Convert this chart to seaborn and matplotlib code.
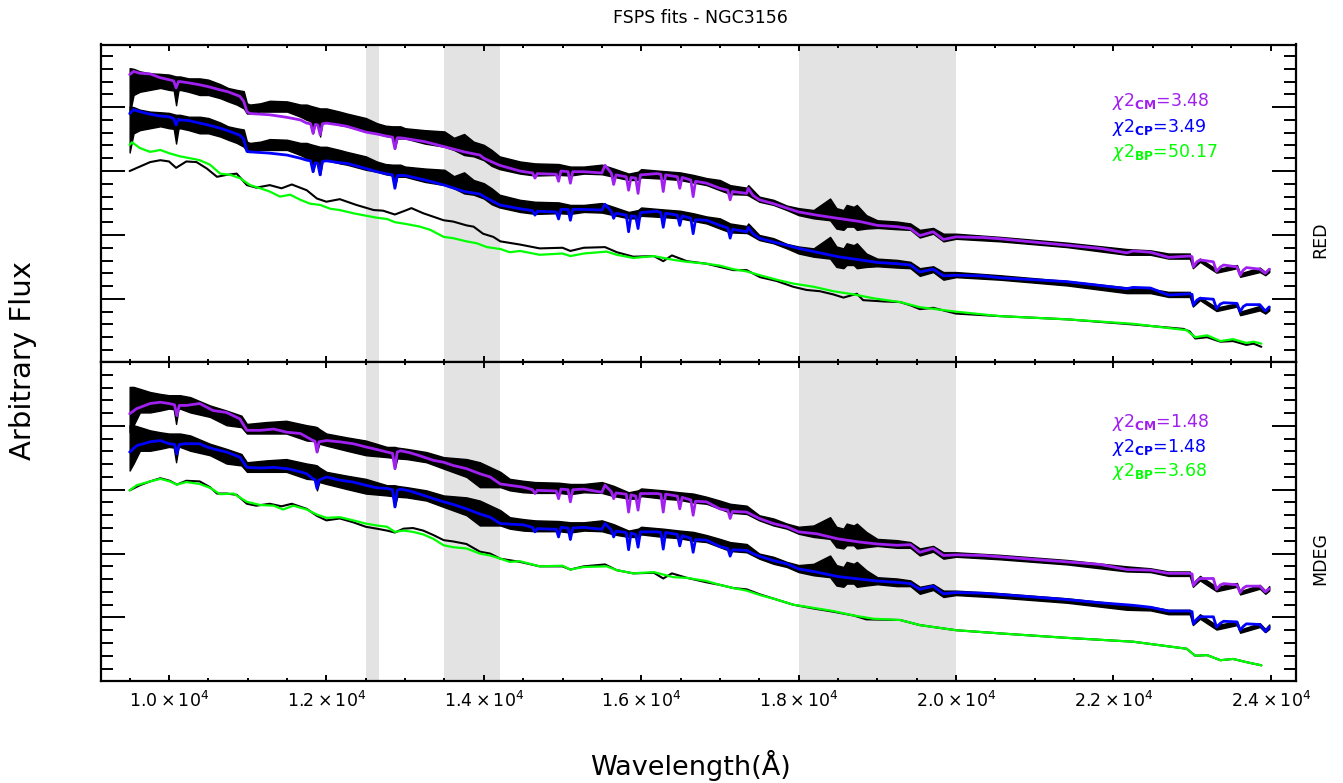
import numpy as np
import matplotlib
matplotlib.use("Agg")
import matplotlib.pyplot as plt
import seaborn as sns
from matplotlib.ticker import MultipleLocator, FuncFormatter

# ---------------- data (wavelength in Angstrom, arbitrary flux) ----------------
OFFSET = 0.6  # vertical shift between the two observed copies

RED_OBS = [(9500,4.61,3.89),(9550,4.60,4.19),(9630,4.56,4.24),(9760,4.53,4.27),(9890,4.52,4.30),(10000,4.51,4.27),(10060,4.49,4.26),(10090,4.48,4.03),(10120,4.48,4.26),(10140,4.48,4.27),(10250,4.45,4.24),(10390,4.45,4.19),(10500,4.43,4.19),(10650,4.36,4.14),(10750,4.30,4.09),(10860,4.27,4.04),(10950,4.25,3.98),(10990,4.06,3.90),(11030,4.04,3.90),(11160,4.06,3.93),(11280,4.10,3.93),(11500,4.09,3.93),(11670,4.04,3.85),(11750,4.04,3.80),(11800,4.02,3.78),(11830,4.01,3.59),(11860,4.00,3.76),(11890,3.99,3.75),(11920,3.98,3.54),(11950,3.98,3.76),(12000,3.98,3.77),(12170,3.93,3.72),(12260,3.90,3.70),(12500,3.83,3.62),(12640,3.75,3.59),(12750,3.71,3.55),(12840,3.70,3.53),(12870,3.70,3.35),(12900,3.70,3.51),(12940,3.70,3.51),(13000,3.67,3.51),(13250,3.64,3.43),(13500,3.62,3.38),(13620,3.52,3.33),(13750,3.58,3.25),(13870,3.46,3.23),(14000,3.41,3.17),(14100,3.33,3.08),(14200,3.23,3.03),(14460,3.15,2.96),(14650,3.12,2.93),(14950,3.11,2.94),(15100,3.07,2.93),(15270,3.07,2.96),(15500,3.10,2.95),(15650,3.04,2.91),(15840,2.96,2.86),(15960,2.99,2.86),(16000,3.03,2.90),(16280,3.00,2.88),(16490,2.98,2.86),(16660,2.94,2.82),(16830,2.89,2.78),(17000,2.86,2.70),(17130,2.78,2.64),(17340,2.74,2.63),(17360,2.78,2.62),(17500,2.60,2.52),(17680,2.55,2.47),(17850,2.46,2.39),(18000,2.42,2.31),(18190,2.39,2.26),(18400,2.57,2.23),(18480,2.42,2.10),(18570,2.39,2.08),(18610,2.47,2.13),(18700,2.44,2.13),(18740,2.47,2.08),(18860,2.31,2.10),(19000,2.23,2.11),(19250,2.21,2.09),(19420,2.18,2.08),(19540,2.08,1.96),(19710,2.11,2.02),(19840,2.02,1.90),(20000,2.02,1.94),(20560,1.97,1.90),(21410,1.88,1.81),(22170,1.78,1.69),(22470,1.76,1.69),(22700,1.71,1.63),(22970,1.71,1.63),(23010,1.53,1.48),(23100,1.63,1.58),(23310,1.465,1.41),(23570,1.53,1.48),(23610,1.40,1.345),(23860,1.49,1.42),(23930,1.42,1.37),(23980,1.48,1.42)]

RED_CM = [(9500,4.51),(9550,4.56),(9630,4.53),(9760,4.52),(9890,4.46),(10000,4.43),(10060,4.41),(10090,4.30),(10120,4.40),(10140,4.40),(10250,4.38),(10390,4.35),(10500,4.32),(10650,4.27),(10750,4.24),(10900,4.17),(10950,4.09),(10990,3.93),(11030,3.90),(11160,3.89),(11280,3.88),(11500,3.84),(11670,3.80),(11750,3.75),(11800,3.74),(11830,3.59),(11860,3.73),(11890,3.72),(11920,3.57),(11950,3.74),(12000,3.75),(12170,3.72),(12260,3.70),(12500,3.61),(12640,3.58),(12750,3.55),(12840,3.53),(12870,3.35),(12900,3.52),(12940,3.52),(13000,3.51),(13250,3.46),(13500,3.38),(13750,3.30),(13950,3.25),(14000,3.20),(14200,3.09),(14460,3.00),(14620,2.97),(14650,2.89),(14680,2.96),(14920,2.95),(14950,2.84),(14980,3.00),(15070,2.99),(15100,2.81),(15130,2.99),(15270,2.99),(15500,2.97),(15540,3.09),(15620,2.97),(15650,2.79),(15680,2.94),(15810,2.91),(15840,2.70),(15870,2.90),(15930,2.89),(15960,2.65),(15990,2.94),(16200,2.96),(16250,2.95),(16280,2.68),(16310,2.94),(16460,2.91),(16490,2.73),(16520,2.90),(16630,2.86),(16660,2.60),(16690,2.84),(16830,2.81),(17000,2.73),(17100,2.70),(17130,2.55),(17160,2.68),(17340,2.65),(17360,2.73),(17420,2.62),(17500,2.55),(17680,2.49),(17850,2.42),(18000,2.36),(18230,2.31),(18500,2.26),(18780,2.21),(19000,2.15),(19250,2.13),(19420,2.10),(19540,1.99),(19710,2.05),(19840,1.93),(20000,1.97),(20350,1.96),(20560,1.94),(20980,1.89),(21410,1.84),(21830,1.79),(22170,1.72),(22250,1.75),(22470,1.73),(22700,1.65),(22970,1.67),(23000,1.66),(23015,1.50),(23060,1.58),(23100,1.61),(23270,1.58),(23310,1.43),(23360,1.50),(23400,1.53),(23570,1.50),(23610,1.37),(23650,1.45),(23690,1.49),(23860,1.465),(23930,1.40),(23980,1.465)]

RED_CP = [(9500,3.90),(9550,3.96),(9630,3.93),(9760,3.89),(9890,3.86),(10000,3.85),(10060,3.82),(10090,3.72),(10120,3.81),(10140,3.80),(10250,3.79),(10390,3.75),(10500,3.72),(10650,3.67),(10750,3.63),(10900,3.56),(10950,3.50),(10990,3.31),(11030,3.30),(11160,3.29),(11280,3.28),(11500,3.25),(11670,3.20),(11750,3.17),(11800,3.16),(11830,2.99),(11860,3.13),(11890,3.12),(11920,2.94),(11950,3.15),(12000,3.16),(12170,3.13),(12260,3.12),(12500,3.04),(12640,2.99),(12750,2.96),(12840,2.94),(12870,2.73),(12900,2.93),(12940,2.93),(13000,2.93),(13250,2.86),(13500,2.78),(13750,2.68),(13950,2.64),(14000,2.60),(14200,2.47),(14460,2.41),(14620,2.38),(14650,2.31),(14680,2.37),(14920,2.36),(14950,2.25),(14980,2.40),(15070,2.40),(15100,2.23),(15130,2.40),(15270,2.40),(15500,2.39),(15540,2.48),(15620,2.37),(15650,2.26),(15680,2.34),(15810,2.31),(15840,2.05),(15870,2.30),(15930,2.29),(15960,2.10),(15990,2.35),(16200,2.37),(16250,2.35),(16280,2.12),(16310,2.34),(16460,2.31),(16490,2.15),(16520,2.30),(16630,2.26),(16660,2.02),(16690,2.24),(16830,2.23),(17000,2.15),(17100,2.11),(17130,1.95),(17160,2.09),(17340,2.05),(17360,2.12),(17420,2.02),(17500,1.95),(17680,1.89),(17850,1.84),(18000,1.79),(18230,1.73),(18500,1.66),(18780,1.61),(19000,1.57),(19250,1.55),(19420,1.53),(19540,1.42),(19710,1.465),(19840,1.36),(20000,1.37),(20350,1.36),(20560,1.33),(20980,1.30),(21410,1.27),(21830,1.21),(22170,1.16),(22250,1.18),(22470,1.17),(22700,1.06),(22970,1.08),(23000,1.07),(23015,0.90),(23060,0.98),(23100,1.01),(23270,0.995),(23310,0.85),(23360,0.92),(23400,0.94),(23570,0.93),(23610,0.80),(23650,0.88),(23690,0.91),(23860,0.91),(23930,0.81),(23980,0.875)]

RED_SMOOTH = [(9500,3.00),(9630,3.07),(9760,3.14),(9890,3.17),(10000,3.15),(10090,3.05),(10220,3.15),(10350,3.14),(10480,3.04),(10610,2.91),(10730,2.94),(10860,2.96),(10990,2.78),(11110,2.74),(11280,2.78),(11430,2.73),(11560,2.79),(11750,2.70),(11880,2.57),(12000,2.52),(12170,2.56),(12380,2.47),(12600,2.39),(12720,2.38),(12870,2.32),(13020,2.39),(13080,2.42),(13230,2.34),(13490,2.23),(13610,2.21),(13780,2.15),(13870,2.13),(13990,2.02),(14120,1.97),(14210,1.90),(14460,1.85),(14710,1.79),(15000,1.80),(15100,1.75),(15270,1.80),(15540,1.81),(15690,1.73),(15900,1.66),(16160,1.67),(16280,1.59),(16390,1.68),(16580,1.59),(16830,1.55),(17000,1.50),(17170,1.45),(17340,1.45),(17510,1.34),(17720,1.28),(17930,1.19),(18100,1.14),(18270,1.12),(18440,1.07),(18570,1.02),(18740,1.08),(18820,0.98),(19080,0.96),(19290,0.95),(19420,0.90),(19540,0.84),(19710,0.86),(20000,0.77),(20560,0.73),(21410,0.68),(22250,0.60),(22890,0.53),(22970,0.49),(23040,0.38),(23190,0.40),(23360,0.33),(23520,0.34),(23690,0.28),(23780,0.30),(23880,0.25)]

RED_BP = [(9500,3.41),(9530,3.45),(9630,3.36),(9760,3.30),(9890,3.33),(10000,3.28),(10140,3.23),(10270,3.20),(10390,3.17),(10520,3.10),(10650,2.96),(10780,2.94),(10900,2.89),(11030,2.78),(11160,2.73),(11280,2.68),(11410,2.60),(11540,2.63),(11670,2.55),(11790,2.49),(11920,2.47),(12050,2.41),(12170,2.39),(12340,2.34),(12510,2.30),(12640,2.27),(12770,2.25),(12870,2.20),(13020,2.17),(13190,2.13),(13320,2.08),(13490,1.97),(13610,1.95),(13780,1.90),(13910,1.87),(14040,1.81),(14210,1.78),(14330,1.73),(14460,1.75),(14710,1.69),(15000,1.71),(15100,1.67),(15270,1.71),(15560,1.74),(15690,1.69),(15900,1.64),(16160,1.67),(16410,1.61),(16580,1.58),(16830,1.55),(17000,1.52),(17170,1.465),(17340,1.43),(17510,1.37),(17720,1.30),(17930,1.24),(18190,1.19),(18440,1.12),(18700,1.07),(18950,1.01),(19290,0.95),(19540,0.87),(20000,0.80),(20560,0.73),(21410,0.68),(22250,0.61),(22930,0.51),(23040,0.40),(23190,0.43),(23360,0.34),(23520,0.37),(23690,0.31),(23780,0.33),(23880,0.30)]

MDEG_OBS = [(9500,4.61,3.90),(9550,4.61,4.01),(9630,4.58,4.21),(9760,4.53,4.21),(9890,4.50,4.24),(10000,4.48,4.27),(10060,4.48,4.26),(10090,4.48,4.03),(10120,4.48,4.26),(10140,4.48,4.27),(10270,4.45,4.21),(10520,4.32,4.14),(10730,4.24,4.01),(10920,4.16,3.98),(10990,4.03,3.88),(11240,4.06,3.88),(11490,4.08,3.88),(11750,4.01,3.77),(11850,3.99,3.76),(11880,3.98,3.59),(11910,3.95,3.72),(12000,3.88,3.69),(12260,3.82,3.61),(12500,3.77,3.54),(12770,3.67,3.51),(12840,3.67,3.50),(12870,3.67,3.33),(12900,3.66,3.49),(13020,3.64,3.48),(13270,3.59,3.43),(13490,3.51,3.33),(13780,3.48,3.20),(13950,3.43,3.04),(14210,3.28,3.04),(14330,3.17,2.99),(14500,3.14,2.96),(14650,3.12,2.95),(14950,3.11,2.95),(15100,3.09,2.93),(15270,3.09,2.96),(15500,3.12,2.95),(15650,3.06,2.90),(15840,2.96,2.86),(15960,2.99,2.86),(16000,3.02,2.90),(16280,2.99,2.86),(16490,2.96,2.84),(16660,2.94,2.80),(16830,2.89,2.78),(17000,2.83,2.70),(17130,2.78,2.64),(17340,2.75,2.62),(17500,2.60,2.52),(17680,2.55,2.44),(17850,2.47,2.39),(18000,2.42,2.31),(18190,2.44,2.26),(18400,2.57,2.23),(18480,2.42,2.10),(18570,2.39,2.08),(18610,2.47,2.13),(18700,2.44,2.13),(18740,2.47,2.08),(18860,2.34,2.10),(19000,2.23,2.12),(19250,2.21,2.09),(19420,2.18,2.09),(19540,2.08,1.97),(19710,2.12,2.03),(19840,2.02,1.92),(20000,2.02,1.95),(20560,1.98,1.91),(21410,1.90,1.83),(22170,1.80,1.72),(22470,1.77,1.71),(22700,1.72,1.65),(22970,1.72,1.65),(23010,1.54,1.48),(23100,1.65,1.58),(23310,1.48,1.41),(23570,1.54,1.48),(23610,1.41,1.36),(23860,1.51,1.45),(23930,1.42,1.37),(23980,1.49,1.42)]

MDEG_CM = [(9500,4.19),(9590,4.27),(9760,4.35),(9890,4.37),(10000,4.35),(10070,4.33),(10100,4.16),(10130,4.32),(10220,4.32),(10390,4.35),(10560,4.24),(10730,4.21),(10900,4.11),(10990,3.93),(11160,3.93),(11330,3.95),(11500,3.90),(11670,3.88),(11830,3.77),(11855,3.76),(11880,3.59),(11905,3.75),(12000,3.77),(12170,3.75),(12340,3.72),(12500,3.67),(12640,3.63),(12770,3.59),(12840,3.57),(12870,3.33),(12900,3.59),(12940,3.61),(13060,3.58),(13190,3.53),(13360,3.46),(13490,3.43),(13610,3.38),(13780,3.33),(13950,3.25),(14080,3.20),(14210,3.09),(14500,3.04),(14620,3.00),(14650,2.94),(14680,2.99),(14920,2.98),(14950,2.86),(14980,3.01),(15070,3.00),(15100,2.81),(15130,3.00),(15270,3.01),(15500,2.96),(15540,3.07),(15620,2.97),(15650,2.86),(15680,2.95),(15810,2.93),(15840,2.65),(15870,2.92),(15930,2.90),(15960,2.68),(15990,2.94),(16200,2.94),(16250,2.93),(16280,2.65),(16310,2.93),(16460,2.90),(16490,2.70),(16520,2.88),(16630,2.84),(16660,2.60),(16690,2.82),(16830,2.81),(17000,2.70),(17100,2.68),(17130,2.55),(17160,2.66),(17340,2.65),(17420,2.60),(17500,2.55),(17680,2.47),(17850,2.42),(18000,2.34),(18230,2.31),(18500,2.23),(18780,2.18),(19000,2.15),(19250,2.13),(19420,2.14),(19540,2.02),(19710,2.08),(19840,1.97),(20000,1.98),(20350,1.97),(20560,1.95),(20980,1.91),(21410,1.87),(21830,1.83),(22170,1.75),(22470,1.74),(22700,1.69),(22970,1.69),(23000,1.68),(23015,1.50),(23060,1.57),(23100,1.61),(23270,1.61),(23310,1.44),(23360,1.51),(23400,1.53),(23570,1.51),(23610,1.39),(23650,1.46),(23690,1.49),(23860,1.49),(23930,1.40),(23980,1.45)]

MDEG_CP = [(9500,3.59),(9590,3.69),(9760,3.75),(9890,3.77),(10000,3.72),(10070,3.71),(10100,3.56),(10130,3.71),(10220,3.72),(10390,3.72),(10480,3.67),(10560,3.64),(10730,3.59),(10900,3.51),(10990,3.35),(11160,3.34),(11330,3.35),(11500,3.33),(11670,3.28),(11750,3.25),(11830,3.17),(11855,3.16),(11880,3.02),(11905,3.15),(12000,3.20),(12170,3.15),(12340,3.12),(12500,3.07),(12640,3.03),(12770,3.02),(12840,3.00),(12870,2.73),(12900,2.99),(12940,3.01),(13060,2.98),(13190,2.93),(13360,2.86),(13490,2.81),(13610,2.77),(13780,2.70),(13950,2.62),(14080,2.57),(14210,2.47),(14500,2.45),(14620,2.41),(14650,2.34),(14680,2.39),(14920,2.38),(14950,2.26),(14980,2.41),(15070,2.40),(15100,2.22),(15130,2.40),(15270,2.41),(15500,2.38),(15540,2.47),(15620,2.37),(15650,2.26),(15680,2.35),(15810,2.33),(15840,2.06),(15870,2.32),(15930,2.30),(15960,2.10),(15990,2.34),(16200,2.34),(16250,2.33),(16280,2.07),(16310,2.33),(16460,2.30),(16490,2.12),(16520,2.28),(16630,2.24),(16660,2.02),(16690,2.22),(16830,2.21),(17000,2.11),(17100,2.08),(17130,1.96),(17160,2.06),(17340,2.05),(17420,2.00),(17500,1.96),(17680,1.89),(17850,1.84),(18000,1.76),(18230,1.71),(18500,1.64),(18780,1.60),(19000,1.57),(19250,1.55),(19420,1.53),(19540,1.44),(19710,1.49),(19840,1.37),(20000,1.39),(20350,1.38),(20560,1.36),(20980,1.32),(21410,1.28),(21830,1.23),(22250,1.19),(22470,1.16),(22700,1.10),(22970,1.10),(23000,1.09),(23015,0.90),(23060,0.97),(23100,1.01),(23270,1.01),(23310,0.85),(23360,0.91),(23400,0.94),(23570,0.93),(23610,0.80),(23650,0.86),(23690,0.90),(23860,0.89),(23930,0.78),(23980,0.85)]

MDEG_SMOOTH = [(9500,2.99),(9630,3.07),(9760,3.13),(9890,3.18),(10010,3.14),(10100,3.08),(10220,3.14),(10390,3.13),(10520,3.04),(10610,2.94),(10730,2.94),(10860,2.92),(10990,2.78),(11110,2.75),(11280,2.78),(11430,2.74),(11560,2.78),(11750,2.70),(11880,2.59),(12000,2.52),(12170,2.55),(12340,2.49),(12500,2.42),(12640,2.39),(12770,2.36),(12870,2.33),(12980,2.39),(13100,2.40),(13230,2.36),(13360,2.29),(13490,2.21),(13610,2.19),(13780,2.15),(13950,2.03),(14080,2.00),(14210,1.92),(14460,1.87),(14710,1.80),(15000,1.80),(15100,1.75),(15270,1.80),(15540,1.83),(15690,1.74),(15900,1.69),(16160,1.70),(16280,1.61),(16390,1.69),(16580,1.62),(16830,1.55),(17000,1.51),(17170,1.46),(17340,1.44),(17510,1.36),(17720,1.28),(17930,1.20),(18190,1.14),(18440,1.09),(18700,1.03),(18860,0.97),(19290,0.96),(19540,0.88),(20000,0.80),(20560,0.75),(21410,0.68),(22250,0.62),(22930,0.51),(23040,0.40),(23190,0.41),(23360,0.33),(23520,0.35),(23690,0.30),(23880,0.25)]

MDEG_BP = [(9500,2.99),(9590,3.07),(9760,3.13),(9890,3.17),(10010,3.13),(10100,3.08),(10220,3.12),(10390,3.09),(10520,3.03),(10650,2.93),(10820,2.94),(10990,2.81),(11160,2.76),(11330,2.75),(11450,2.69),(11580,2.75),(11750,2.69),(11880,2.61),(12000,2.56),(12170,2.57),(12340,2.52),(12500,2.47),(12640,2.44),(12770,2.42),(12870,2.34),(12980,2.36),(13100,2.34),(13230,2.30),(13360,2.23),(13490,2.13),(13610,2.10),(13780,2.08),(13950,2.00),(14080,1.97),(14210,1.92),(14330,1.87),(14460,1.88),(14710,1.80),(15000,1.81),(15100,1.75),(15270,1.79),(15560,1.80),(15690,1.74),(15900,1.69),(16160,1.71),(16410,1.63),(16580,1.62),(16830,1.57),(17000,1.51),(17170,1.46),(17340,1.42),(17510,1.35),(17720,1.28),(17930,1.20),(18190,1.15),(18440,1.10),(18700,1.03),(18950,0.98),(19290,0.96),(19540,0.88),(20000,0.80),(20560,0.75),(21410,0.68),(22250,0.62),(22930,0.51),(23040,0.40),(23190,0.41),(23360,0.33),(23520,0.35),(23690,0.30),(23880,0.25)]

# excluded (telluric) wavelength windows
MASKS = [(12500, 12670), (13500, 14200), (18000, 20000)]

CHI2 = {"RED": ["3.48", "3.49", "50.17"], "MDEG": ["1.48", "1.48", "3.68"]}
CHI2_TAGS = ["CM", "CP", "BP"]
TITLE = "FSPS fits - NGC3156"

# ---------------- style ----------------
sns.set_theme(style="white")
plt.rcParams["font.family"] = ["DejaVu Sans"]
plt.rcParams["text.color"] = "black"
plt.rcParams["xtick.color"] = "black"
plt.rcParams["ytick.color"] = "black"
PURPLE, BLUE, GREEN = "#A020F0", "#0000FF", "#00FF00"
COLS = [PURPLE, BLUE, GREEN]

fig = plt.figure(figsize=(13.43, 7.83), dpi=100)
W, H = 1343.0, 783.0
ax_top = fig.add_axes([101 / W, 1 - 362 / H, 1195 / W, 317.5 / H])
ax_bot = fig.add_axes([101 / W, 1 - 681.3 / H, 1195 / W, 319.3 / H])


def line(ax, pairs, color, lw, shift=0.0, z=3):
    a = np.array(pairs, dtype=float)
    sns.lineplot(x=a[:, 0], y=a[:, 1] - shift, color=color, linewidth=lw,
                 ax=ax, estimator=None, sort=False, zorder=z)


def band(ax, triples, shift=0.0):
    a = np.array(triples, dtype=float)
    ax.fill_between(a[:, 0], a[:, 2] - shift, a[:, 1] - shift, facecolor="black",
                    edgecolor="black", linewidth=1.0, zorder=2)


data = {
    "RED": (RED_OBS, RED_CM, RED_CP, RED_SMOOTH, RED_BP),
    "MDEG": (MDEG_OBS, MDEG_CM, MDEG_CP, MDEG_SMOOTH, MDEG_BP),
}

for ax, name, ylim in [(ax_top, "RED", (0.0125, 4.98)), (ax_bot, "MDEG", (0.0, 5.0))]:
    obs, cm, cp, smooth, bp = data[name]
    for lo, hi in MASKS:
        ax.axvspan(lo, hi, facecolor="#E3E3E3", edgecolor="none", zorder=0)
    band(ax, obs)
    line(ax, cm, PURPLE, 2.0)
    band(ax, obs, OFFSET)
    line(ax, cp, BLUE, 2.0)
    line(ax, smooth, "black", 1.5, z=3)
    line(ax, bp, GREEN, 1.6, z=4)

    ax.set_xlim(9136, 24320)
    ax.set_ylim(*ylim)
    ax.set_xlabel("")
    ax.set_ylabel("")
    ax.xaxis.set_major_locator(MultipleLocator(2000))
    ax.xaxis.set_minor_locator(MultipleLocator(500))
    ax.yaxis.set_major_locator(MultipleLocator(1))
    ax.yaxis.set_minor_locator(MultipleLocator(0.2))
    ax.tick_params(which="both", direction="in", top=True, bottom=True,
                   left=True, right=True, width=1.4, color="black")
    ax.tick_params(axis="y", which="major", length=17)
    ax.tick_params(axis="y", which="minor", length=8.5)
    ax.tick_params(axis="x", which="major", length=4.5)
    ax.tick_params(axis="x", which="minor", length=2.4)
    ax.tick_params(axis="y", labelleft=False, labelright=False)
    for sp in ax.spines.values():
        sp.set_visible(True)
        sp.set_color("black")
        sp.set_linewidth(1.6)

    ys = [0.819, 0.739, 0.661] if name == "RED" else [0.812, 0.732, 0.656]
    for val, tag, col, yy in zip(CHI2[name], CHI2_TAGS, COLS, ys):
        ax.text(0.846, yy, r"$\chi$2$_{\mathbf{%s}}$=%s" % (tag, val), color=col,
                fontsize=12.5, transform=ax.transAxes, ha="left", va="center", zorder=6)
    ax.text(1.0201, 0.385, name, rotation=90, transform=ax.transAxes,
            ha="center", va="center", fontsize=12.5, color="black")

ax_top.tick_params(axis="x", labelbottom=False)
ax_bot.xaxis.set_major_formatter(
    FuncFormatter(lambda v, p: r"$%.1f\times10^{4}$" % (v / 1e4)))
ax_bot.tick_params(axis="x", labelsize=12.5, pad=7, labelcolor="black")

fig.text(700 / W, 1 - 18 / H, TITLE, ha="center", va="center", fontsize=12.5, color="black")
fig.text(690 / W, 1 - 765 / H, "Wavelength(Å)", ha="center", va="center",
         fontsize=19.5, color="black")
fig.text(23 / W, 1 - 360 / H, "Arbitrary Flux", ha="center", va="center",
         fontsize=21, rotation=90, color="black")

fig.savefig("out.png", dpi=100)
